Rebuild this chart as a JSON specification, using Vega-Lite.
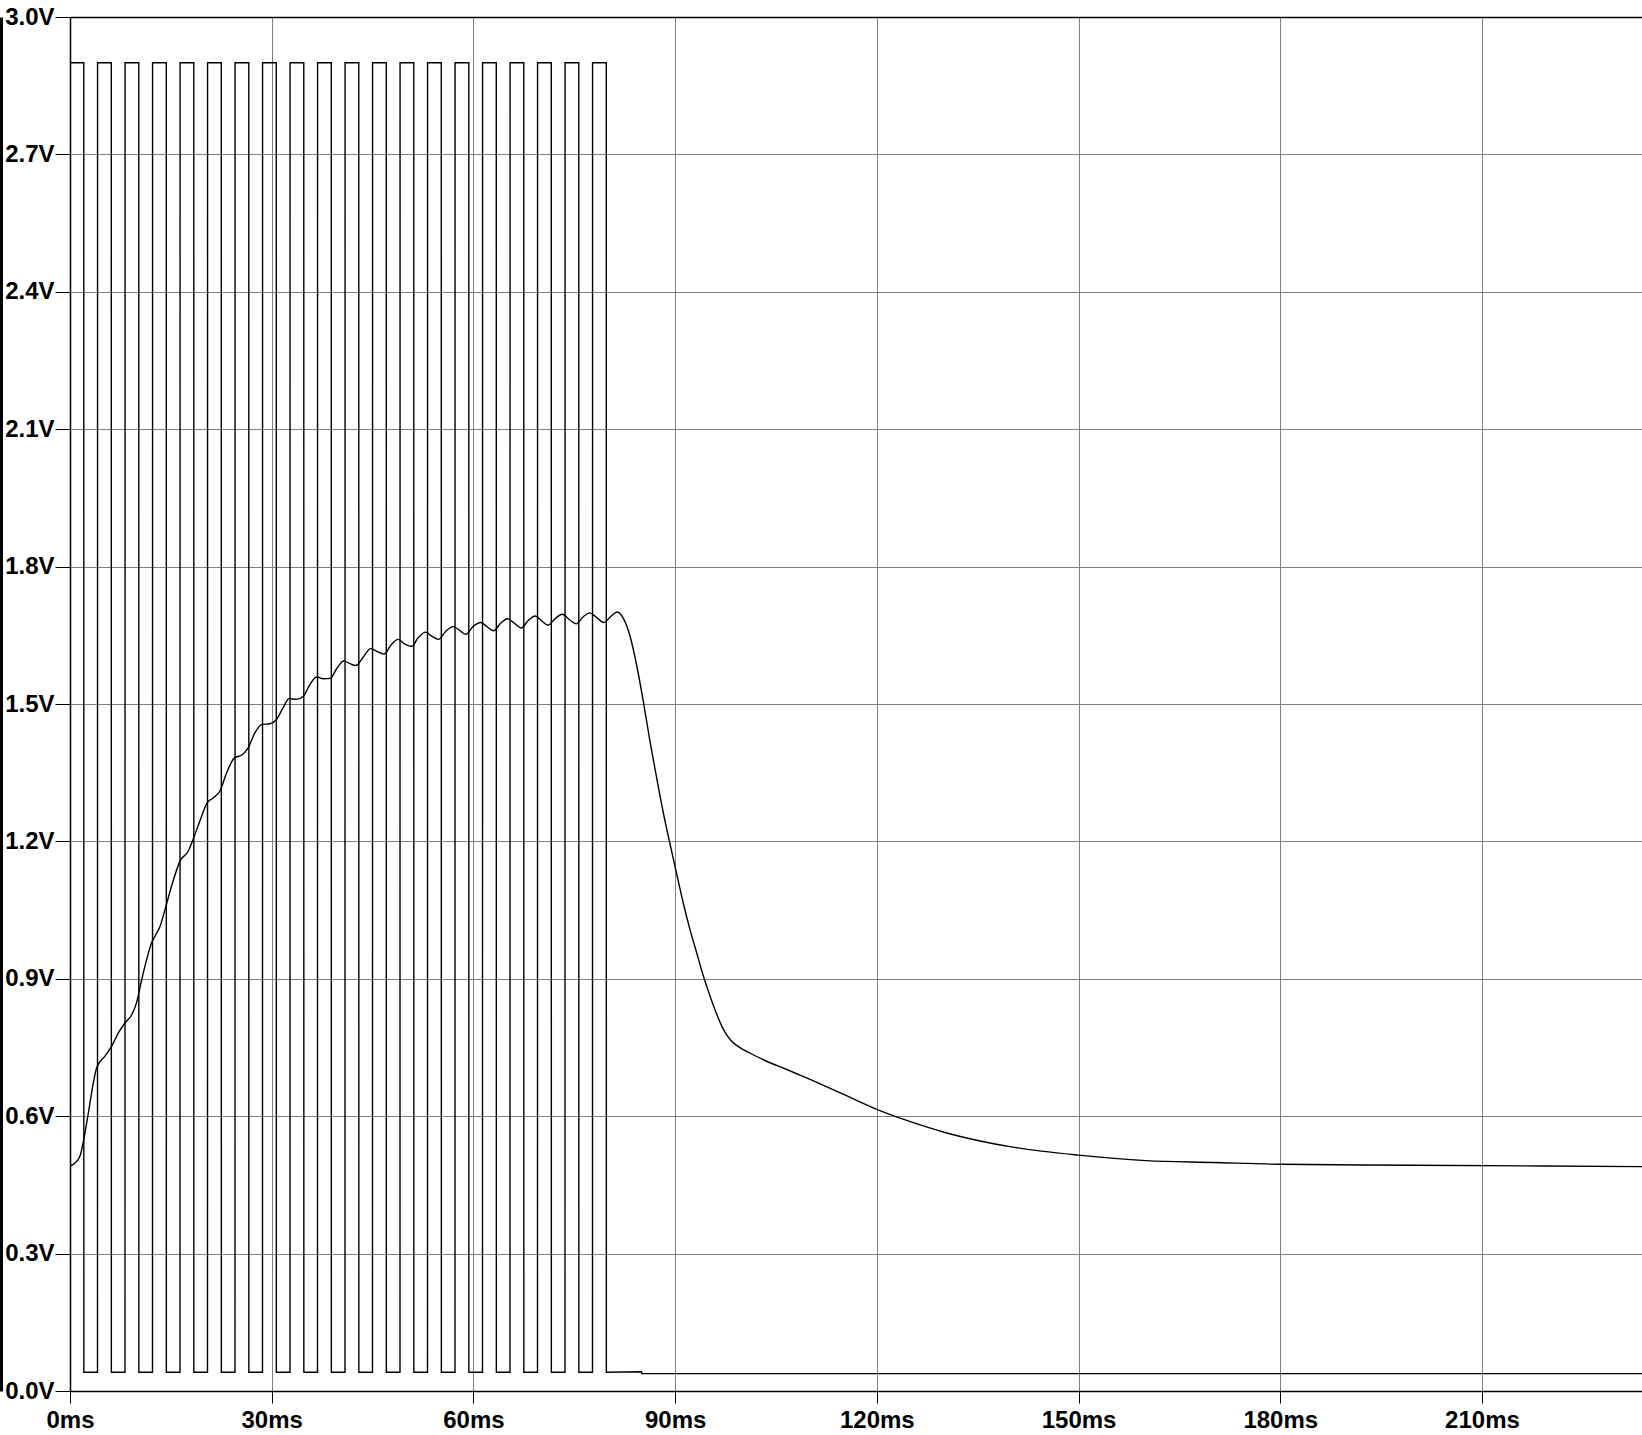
{
  "$schema": "https://vega.github.io/schema/vega-lite/v6.json",
  "width": 1572,
  "height": 1374,
  "autosize": {"type": "none"},
  "padding": {"left": 70, "top": 17, "right": 0, "bottom": 44},
  "background": "white",
  "config": {
    "view": {"stroke": null},
    "axis": {
      "labelFont": "Liberation Sans, Arial, sans-serif",
      "labelFontWeight": "bold",
      "labelFontSize": 24,
      "labelColor": "black",
      "tickColor": "black",
      "domainColor": "black",
      "gridColor": "#808080",
      "gridWidth": 1,
      "tickWidth": 1,
      "domainWidth": 1.5,
      "labelOverlap": false,
      "labelBound": false,
      "labelFlush": false,
      "title": null
    }
  },
  "datasets": {
    "sq": [
      {"t": 0, "v": 0.041}, {"t": 0.01, "v": 2.9}, {"t": 2.05, "v": 2.9}, {"t": 2.06, "v": 0.041},
      {"t": 4.09, "v": 0.041}, {"t": 4.1, "v": 2.9}, {"t": 6.14, "v": 2.9}, {"t": 6.15, "v": 0.041},
      {"t": 8.18, "v": 0.041}, {"t": 8.19, "v": 2.9}, {"t": 10.23, "v": 2.9}, {"t": 10.24, "v": 0.041},
      {"t": 12.27, "v": 0.041}, {"t": 12.28, "v": 2.9}, {"t": 14.32, "v": 2.9}, {"t": 14.33, "v": 0.041},
      {"t": 16.36, "v": 0.041}, {"t": 16.37, "v": 2.9}, {"t": 18.41, "v": 2.9}, {"t": 18.42, "v": 0.041},
      {"t": 20.45, "v": 0.041}, {"t": 20.46, "v": 2.9}, {"t": 22.5, "v": 2.9}, {"t": 22.51, "v": 0.041},
      {"t": 24.54, "v": 0.041}, {"t": 24.55, "v": 2.9}, {"t": 26.59, "v": 2.9}, {"t": 26.6, "v": 0.041},
      {"t": 28.63, "v": 0.041}, {"t": 28.64, "v": 2.9}, {"t": 30.68, "v": 2.9}, {"t": 30.69, "v": 0.041},
      {"t": 32.72, "v": 0.041}, {"t": 32.73, "v": 2.9}, {"t": 34.77, "v": 2.9}, {"t": 34.78, "v": 0.041},
      {"t": 36.81, "v": 0.041}, {"t": 36.82, "v": 2.9}, {"t": 38.86, "v": 2.9}, {"t": 38.87, "v": 0.041},
      {"t": 40.9, "v": 0.041}, {"t": 40.91, "v": 2.9}, {"t": 42.95, "v": 2.9}, {"t": 42.96, "v": 0.041},
      {"t": 44.99, "v": 0.041}, {"t": 45.0, "v": 2.9}, {"t": 47.04, "v": 2.9}, {"t": 47.05, "v": 0.041},
      {"t": 49.08, "v": 0.041}, {"t": 49.09, "v": 2.9}, {"t": 51.13, "v": 2.9}, {"t": 51.14, "v": 0.041},
      {"t": 53.17, "v": 0.041}, {"t": 53.18, "v": 2.9}, {"t": 55.22, "v": 2.9}, {"t": 55.23, "v": 0.041},
      {"t": 57.26, "v": 0.041}, {"t": 57.27, "v": 2.9}, {"t": 59.31, "v": 2.9}, {"t": 59.32, "v": 0.041},
      {"t": 61.35, "v": 0.041}, {"t": 61.36, "v": 2.9}, {"t": 63.4, "v": 2.9}, {"t": 63.41, "v": 0.041},
      {"t": 65.44, "v": 0.041}, {"t": 65.45, "v": 2.9}, {"t": 67.49, "v": 2.9}, {"t": 67.5, "v": 0.041},
      {"t": 69.53, "v": 0.041}, {"t": 69.54, "v": 2.9}, {"t": 71.58, "v": 2.9}, {"t": 71.59, "v": 0.041},
      {"t": 73.62, "v": 0.041}, {"t": 73.63, "v": 2.9}, {"t": 75.67, "v": 2.9}, {"t": 75.68, "v": 0.041},
      {"t": 77.71, "v": 0.041}, {"t": 77.72, "v": 2.9}, {"t": 79.76, "v": 2.9}, {"t": 79.77, "v": 0.041},
      {"t": 85.0, "v": 0.042}, {"t": 85.05, "v": 0.038}, {"t": 233.8, "v": 0.038}
    ],
    "out": [
      {"t": 0, "v": 0.491}, {"t": 0.74, "v": 0.498}, {"t": 1.49, "v": 0.513}, {"t": 2.23, "v": 0.564},
      {"t": 2.73, "v": 0.607}, {"t": 3.47, "v": 0.673}, {"t": 3.97, "v": 0.706}, {"t": 5.2, "v": 0.731},
      {"t": 6.2, "v": 0.753}, {"t": 7.2, "v": 0.782}, {"t": 8.2, "v": 0.804}, {"t": 9.2, "v": 0.822},
      {"t": 9.9, "v": 0.848}, {"t": 10.66, "v": 0.898}, {"t": 11.4, "v": 0.942}, {"t": 12.15, "v": 0.979},
      {"t": 12.9, "v": 1.0}, {"t": 13.4, "v": 1.015}, {"t": 14.13, "v": 1.051}, {"t": 15.1, "v": 1.102},
      {"t": 16.36, "v": 1.157}, {"t": 17.6, "v": 1.179}, {"t": 18.3, "v": 1.204}, {"t": 19.3, "v": 1.244},
      {"t": 20.4, "v": 1.284}, {"t": 21.3, "v": 1.295}, {"t": 22.3, "v": 1.31}, {"t": 23.3, "v": 1.35},
      {"t": 24.5, "v": 1.383}, {"t": 25.5, "v": 1.388}, {"t": 26.5, "v": 1.404}, {"t": 27.5, "v": 1.437},
      {"t": 28.5, "v": 1.455}, {"t": 29.75, "v": 1.457}, {"t": 30.7, "v": 1.466}, {"t": 31.7, "v": 1.492},
      {"t": 32.6, "v": 1.512}, {"t": 33.7, "v": 1.51}, {"t": 34.7, "v": 1.517}, {"t": 35.7, "v": 1.543},
      {"t": 36.7, "v": 1.559}, {"t": 37.7, "v": 1.555}, {"t": 38.7, "v": 1.556}, {"t": 39.7, "v": 1.578},
      {"t": 40.7, "v": 1.594}, {"t": 41.65, "v": 1.588}, {"t": 42.5, "v": 1.584}, {"t": 43.6, "v": 1.602},
      {"t": 44.7, "v": 1.621}, {"t": 45.9, "v": 1.613}, {"t": 46.7, "v": 1.609}, {"t": 47.8, "v": 1.63},
      {"t": 48.8, "v": 1.641}, {"t": 49.8, "v": 1.631}, {"t": 50.8, "v": 1.626}, {"t": 51.8, "v": 1.645},
      {"t": 52.9, "v": 1.657}, {"t": 53.8, "v": 1.648}, {"t": 54.8, "v": 1.641}, {"t": 55.9, "v": 1.659},
      {"t": 57.0, "v": 1.669}, {"t": 58.0, "v": 1.66}, {"t": 58.9, "v": 1.652}, {"t": 60.0, "v": 1.67},
      {"t": 61.1, "v": 1.678}, {"t": 62.0, "v": 1.669}, {"t": 63.0, "v": 1.66}, {"t": 64.1, "v": 1.677},
      {"t": 65.1, "v": 1.686}, {"t": 66.2, "v": 1.675}, {"t": 67.1, "v": 1.666}, {"t": 68.2, "v": 1.683},
      {"t": 69.2, "v": 1.692}, {"t": 70.2, "v": 1.681}, {"t": 71.1, "v": 1.672}, {"t": 72.2, "v": 1.687},
      {"t": 73.2, "v": 1.696}, {"t": 74.3, "v": 1.684}, {"t": 75.3, "v": 1.675}, {"t": 76.3, "v": 1.69},
      {"t": 77.3, "v": 1.699}, {"t": 78.3, "v": 1.689}, {"t": 79.4, "v": 1.678}, {"t": 80.5, "v": 1.692},
      {"t": 81.4, "v": 1.701}, {"t": 82.3, "v": 1.687}, {"t": 83.3, "v": 1.648}, {"t": 84.3, "v": 1.583},
      {"t": 85.3, "v": 1.503}, {"t": 86.3, "v": 1.415}, {"t": 87.3, "v": 1.335}, {"t": 88.25, "v": 1.262},
      {"t": 89.2, "v": 1.197}, {"t": 90.2, "v": 1.131}, {"t": 91.2, "v": 1.066}, {"t": 92.2, "v": 1.008},
      {"t": 93.2, "v": 0.957}, {"t": 94.2, "v": 0.906}, {"t": 95.2, "v": 0.862}, {"t": 96.2, "v": 0.822},
      {"t": 97.2, "v": 0.789}, {"t": 98.2, "v": 0.767}, {"t": 99.2, "v": 0.754}, {"t": 101.1, "v": 0.738},
      {"t": 103.6, "v": 0.72}, {"t": 106.6, "v": 0.702}, {"t": 109.8, "v": 0.682}, {"t": 115, "v": 0.648},
      {"t": 120, "v": 0.615}, {"t": 125, "v": 0.588}, {"t": 130, "v": 0.565}, {"t": 135, "v": 0.547},
      {"t": 140, "v": 0.533}, {"t": 150, "v": 0.515}, {"t": 160, "v": 0.503}, {"t": 170, "v": 0.499},
      {"t": 180, "v": 0.495}, {"t": 200, "v": 0.493}, {"t": 233.8, "v": 0.49}
    ]
  },
  "layer": [
    {
      "data": {"name": "sq"},
      "mark": {"type": "line", "color": "black", "strokeWidth": 1.4, "clip": true},
      "encoding": {
        "x": {
          "field": "t",
          "type": "quantitative",
          "scale": {"domain": [0, 233.8], "nice": false, "zero": false},
          "axis": {
            "values": [0, 30, 60, 90, 120, 150, 180, 210],
            "labelExpr": "datum.value + 'ms'",
            "grid": true,
            "tickSize": 12,
            "labelPadding": 5
          }
        },
        "y": {
          "field": "v",
          "type": "quantitative",
          "scale": {"domain": [0, 3], "nice": false, "zero": false},
          "axis": {
            "values": [0, 0.3, 0.6, 0.9, 1.2, 1.5, 1.8, 2.1, 2.4, 2.7, 3.0],
            "labelExpr": "format(datum.value, '.1f') + 'V'",
            "grid": true,
            "gridColor": {"condition": {"test": "datum.value > 2.99", "value": "black"}, "value": "#808080"},
            "gridWidth": {"condition": {"test": "datum.value > 2.99", "value": 1.5}, "value": 1},
            "tickSize": 15,
            "labelPadding": 1
          }
        }
      }
    },
    {
      "data": {"name": "out"},
      "mark": {"type": "line", "color": "black", "strokeWidth": 1.4, "interpolate": "monotone", "clip": true},
      "encoding": {
        "x": {"field": "t", "type": "quantitative", "axis": null},
        "y": {
          "field": "v",
          "type": "quantitative",
          "axis": {
            "orient": "left",
            "offset": 69,
            "domainWidth": 3,
            "ticks": false,
            "labels": false,
            "grid": false
          }
        }
      }
    }
  ],
  "resolve": {"axis": {"y": "independent", "x": "independent"}}
}
